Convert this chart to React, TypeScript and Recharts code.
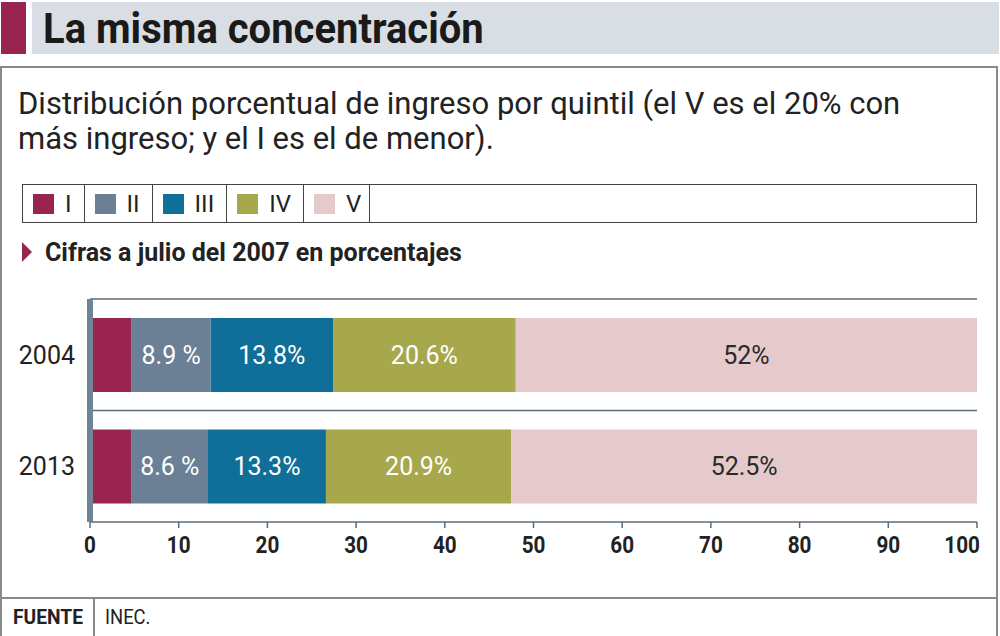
import { Bar, BarChart, CartesianGrid, LabelList, Legend, XAxis, YAxis } from "recharts";

const years = ["2004", "2013"];
const quintiles = ["I", "II", "III", "IV", "V"];
const quintileColors = ["#9a2450", "#6b8095", "#0f6f98", "#a6a84b", "#e5c9cb"];
const values2004 = [4.7, 8.9, 13.8, 20.6, 52];
const values2013 = [4.7, 8.6, 13.3, 20.9, 52.5];
const xTicks = [0, 10, 20, 30, 40, 50, 60, 70, 80, 90, 100];

const data = years.map((year, i) => {
  const vals = i === 0 ? values2004 : values2013;
  const row: any = { year };
  quintiles.forEach((q, j) => {
    row[q] = vals[j];
  });
  return row;
});

const FONT = 'Roboto, "Noto Sans", sans-serif';
const AXIS = "#5a6b78";

// condensed look: Roboto squeezed horizontally
const narrow = (scale: number): any => ({
  display: "inline-block",
  transform: `scaleX(${scale})`,
  transformOrigin: "left center",
  whiteSpace: "nowrap",
});

const renderLegend = (props: any) => {
  const { payload } = props;
  return (
    <div
      style={{
        display: "flex",
        width: 955,
        height: 39,
        border: "1.5px solid #444",
        boxSizing: "border-box",
        background: "#fff",
      }}
    >
      {payload.map((entry: any) => (
        <div
          key={entry.value}
          style={{
            display: "flex",
            alignItems: "center",
            padding: entry.value === "V" ? "0 8px 0 10px" : "0 12px 0 10px",
            borderRight: "1.5px solid #444",
          }}
        >
          <span style={{ width: 21, height: 20, background: entry.color, display: "inline-block" }} />
          <span style={{ marginLeft: 11, fontSize: 24, fontFamily: FONT, color: "#222" }}>
            {entry.value}
          </span>
        </div>
      ))}
    </div>
  );
};

const XTick = (props: any) => {
  const { x, y, payload } = props;
  const last = payload.value === 100;
  return (
    <g transform={`translate(${last ? x + 3 : x},${y})`}>
      <text
        transform="scale(0.9,1)"
        textAnchor={last ? "end" : "middle"}
        dy="0.71em"
        fontSize={23}
        fontWeight={700}
        fontFamily={FONT}
        fill="#222"
      >
        {payload.value}
      </text>
    </g>
  );
};

const labelFor = (q: string) => (v: any) => {
  if (q === "I") return "";
  if (q === "II") return `${v} %`;
  return `${v}%`;
};

export default function App() {
  return (
    <div
      style={{
        position: "absolute",
        left: 0,
        top: 0,
        width: 1000,
        height: 636,
        background: "#fff",
        overflow: "hidden",
      }}
    >
      {/* header */}
      <div style={{ position: "absolute", left: 1, top: 2, width: 25, height: 52, background: "#9a2450" }} />
      <div style={{ position: "absolute", left: 32, top: 2, width: 967, height: 52, background: "#d9dde4" }} />
      <div
        style={{
          position: "absolute",
          left: 43,
          top: 2,
          height: 52,
          lineHeight: "52px",
          fontSize: 43,
          fontWeight: 700,
          fontFamily: FONT,
          color: "#1a1a1a",
          ...narrow(0.93),
        }}
      >
        La misma concentración
      </div>

      {/* box */}
      <div
        style={{
          position: "absolute",
          left: 0,
          top: 66,
          width: 998,
          height: 580,
          border: "2px solid #8a8a8a",
          boxSizing: "border-box",
        }}
      />
      <div
        style={{
          position: "absolute",
          left: 18,
          top: 86,
          width: 970,
          fontSize: 31,
          lineHeight: "35px",
          fontFamily: FONT,
          color: "#222",
          whiteSpace: "nowrap",
        }}
      >
        Distribución porcentual de ingreso por quintil (el V es el 20% con
        <br />
        más ingreso; y el I es el de menor).
      </div>

      <div style={{ position: "absolute", left: 0, top: 180 }}>
        <BarChart
          width={1000}
          height={390}
          data={data}
          layout="vertical"
          margin={{ top: 119, right: 23, bottom: 0, left: 10 }}
          barSize={74}
        >
          <CartesianGrid
            vertical={false}
            stroke={AXIS}
            strokeWidth={1.5}
            horizontalCoordinatesGenerator={({ offset }: any) => [
              offset.top,
              offset.top + offset.height / 2,
            ]}
          />
          <XAxis
            type="number"
            domain={[0, 100]}
            ticks={xTicks}
            interval={0}
            height={48}
            axisLine={{ stroke: AXIS, strokeWidth: 1.5 }}
            tickLine={{ stroke: AXIS, strokeWidth: 1.5 }}
            tickSize={6}
            tickMargin={9}
            tick={<XTick />}
          />
          <YAxis
            type="category"
            dataKey="year"
            width={80}
            axisLine={{ stroke: "#6e8595", strokeWidth: 6 }}
            tickLine={false}
            tickSize={0}
            tickMargin={15}
            tick={{ fontSize: 25, fontFamily: FONT, fill: "#222" }}
          />
          <Legend
            content={renderLegend}
            layout="horizontal"
            verticalAlign="middle"
            align="center"
            wrapperStyle={{ position: "absolute", top: 4, left: 22, width: 955 }}
          />
          {quintiles.map((q, j) => (
            <Bar
              key={q}
              dataKey={q}
              name={q}
              stackId="total"
              fill={quintileColors[j]}
              isAnimationActive={false}
            >
              <LabelList
                dataKey={q}
                position="center"
                formatter={labelFor(q)}
                fill={q === "V" ? "#2a2a2a" : "#fff"}
                fontSize={25}
                fontFamily={FONT}
              />
            </Bar>
          ))}
        </BarChart>
      </div>

      {/* section heading */}
      <div
        style={{
          position: "absolute",
          left: 22,
          top: 242,
          width: 0,
          height: 0,
          borderTop: "10px solid transparent",
          borderBottom: "10px solid transparent",
          borderLeft: "10px solid #9a2450",
        }}
      />
      <div
        style={{
          position: "absolute",
          left: 45,
          top: 236,
          lineHeight: "34px",
          fontSize: 25,
          fontWeight: 700,
          fontFamily: FONT,
          color: "#222",
          ...narrow(1),
        }}
      >
        Cifras a julio del 2007 en porcentajes
      </div>

      {/* footer */}
      <div style={{ position: "absolute", left: 0, top: 597, width: 998, height: 2, background: "#8a8a8a" }} />
      <div style={{ position: "absolute", left: 93, top: 598, width: 1.5, height: 40, background: "#8a8a8a" }} />
      <div
        style={{
          position: "absolute",
          left: 13,
          top: 599,
          lineHeight: "36px",
          fontSize: 20,
          fontWeight: 700,
          fontFamily: FONT,
          color: "#222",
          ...narrow(0.96),
        }}
      >
        FUENTE
      </div>
      <div
        style={{
          position: "absolute",
          left: 105,
          top: 599,
          lineHeight: "36px",
          fontSize: 20,
          fontFamily: FONT,
          color: "#222",
          ...narrow(0.92),
        }}
      >
        INEC.
      </div>
    </div>
  );
}
